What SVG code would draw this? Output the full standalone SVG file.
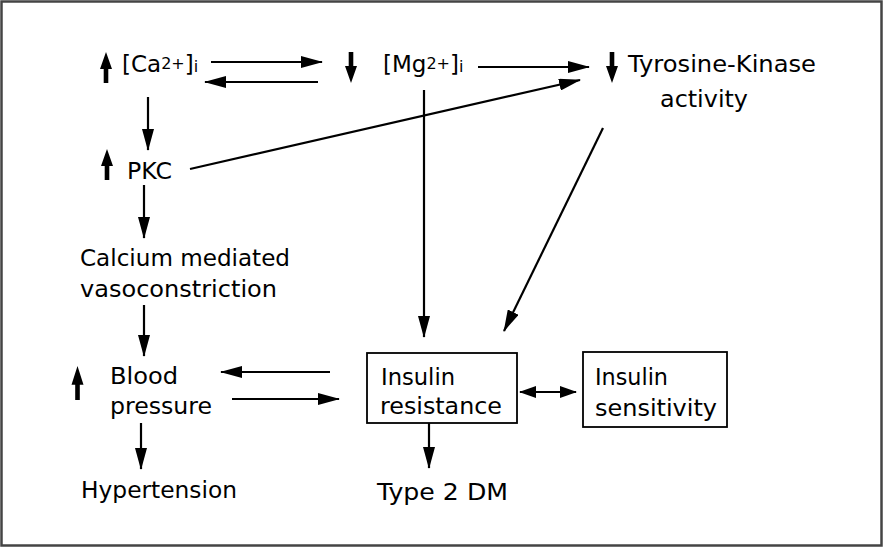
<svg xmlns="http://www.w3.org/2000/svg" width="883" height="548" viewBox="0 0 883 548">
<defs>
<style>
text{font-family:"DejaVu Sans","Liberation Sans",sans-serif;font-size:23px;fill:#000}
.sm{font-size:16px}
.c{stroke:#000;stroke-width:2.2;fill:none;marker-end:url(#ah)}
.box{fill:#fff;stroke:#000;stroke-width:1.8}
</style>
<marker id="ah" markerUnits="userSpaceOnUse" markerWidth="22" markerHeight="12" refX="21" refY="6" orient="auto" viewBox="0 0 22 12"><path d="M0,0 L22,6 L0,12 Z" fill="#000"/></marker>
<marker id="ah2" markerUnits="userSpaceOnUse" markerWidth="17" markerHeight="12" refX="16" refY="6" orient="auto-start-reverse" viewBox="0 0 17 12"><path d="M0,0 L17,6 L0,12 Z" fill="#000"/></marker>
<path id="up" d="M0,0 L6,17 L2.3,17 L2.3,31 L-2.3,31 L-2.3,17 L-6,17 Z" fill="#000"/>
</defs>
<rect x="1.5" y="1.5" width="880" height="544" fill="#fff" stroke="#444" stroke-width="2.5"/>
<g id="connectors">
<line class="c" x1="211" y1="62" x2="322" y2="62"/>
<line class="c" x1="318" y1="82" x2="205" y2="82"/>
<line class="c" x1="478" y1="67" x2="589" y2="67"/>
<line class="c" x1="148" y1="97" x2="148" y2="150"/>
<line class="c" x1="190" y1="169" x2="580" y2="80"/>
<line class="c" x1="144" y1="185" x2="144" y2="238"/>
<line class="c" x1="424" y1="90" x2="424" y2="337"/>
<line class="c" x1="603" y1="128" x2="504" y2="331"/>
<line class="c" x1="144" y1="305" x2="144" y2="356"/>
<line class="c" x1="330" y1="372" x2="221" y2="372"/>
<line class="c" x1="232" y1="399" x2="339" y2="399"/>
<line x1="520" y1="392" x2="576" y2="392" stroke="#000" stroke-width="2.2" marker-start="url(#ah2)" marker-end="url(#ah2)"/>
<line class="c" x1="141" y1="423" x2="141" y2="469"/>
<line class="c" x1="429" y1="423" x2="429" y2="468"/>
</g>
<g id="ca">
<use href="#up" transform="translate(106,52)"/>
<text x="122" y="72">[Ca<tspan class="sm" dy="-3">2+</tspan><tspan dy="3">]</tspan><tspan class="sm">i</tspan></text>
</g>
<g id="mg">
<use href="#up" transform="translate(351,83) scale(1,-1)"/>
<text x="383" y="72">[Mg<tspan class="sm" dy="-3">2+</tspan><tspan dy="3">]</tspan><tspan class="sm">i</tspan></text>
</g>
<g id="tk">
<use href="#up" transform="translate(612,83) scale(1,-1)"/>
<text x="628" y="72" textLength="188" lengthAdjust="spacingAndGlyphs">Tyrosine-Kinase</text>
<text x="660" y="107" textLength="88" lengthAdjust="spacingAndGlyphs">activity</text>
</g>
<g id="pkc">
<use href="#up" transform="translate(107,149)"/>
<text x="127" y="179" textLength="45" lengthAdjust="spacingAndGlyphs">PKC</text>
</g>
<g id="calcium">
<text x="80" y="266" textLength="210" lengthAdjust="spacingAndGlyphs">Calcium mediated</text>
<text x="80" y="297" textLength="197" lengthAdjust="spacingAndGlyphs">vasoconstriction</text>
</g>
<g id="bp">
<use href="#up" transform="translate(77.5,366) scale(1,1.1)"/>
<text x="110" y="384" textLength="68" lengthAdjust="spacingAndGlyphs">Blood</text>
<text x="110" y="414" textLength="102" lengthAdjust="spacingAndGlyphs">pressure</text>
</g>
<g id="hypertension">
<text x="81" y="498" textLength="156" lengthAdjust="spacingAndGlyphs">Hypertension</text>
</g>
<g id="ir">
<rect class="box" x="367" y="353" width="150" height="70"/>
<text x="381" y="385" textLength="74" lengthAdjust="spacingAndGlyphs">Insulin</text>
<text x="380" y="414" textLength="122" lengthAdjust="spacingAndGlyphs">resistance</text>
</g>
<g id="is">
<rect class="box" x="583" y="352" width="144" height="75"/>
<text x="595" y="385" textLength="73" lengthAdjust="spacingAndGlyphs">Insulin</text>
<text x="595" y="416" textLength="122" lengthAdjust="spacingAndGlyphs">sensitivity</text>
</g>
<g id="t2dm">
<text x="377" y="500" textLength="131" lengthAdjust="spacingAndGlyphs">Type 2 DM</text>
</g>
</svg>
